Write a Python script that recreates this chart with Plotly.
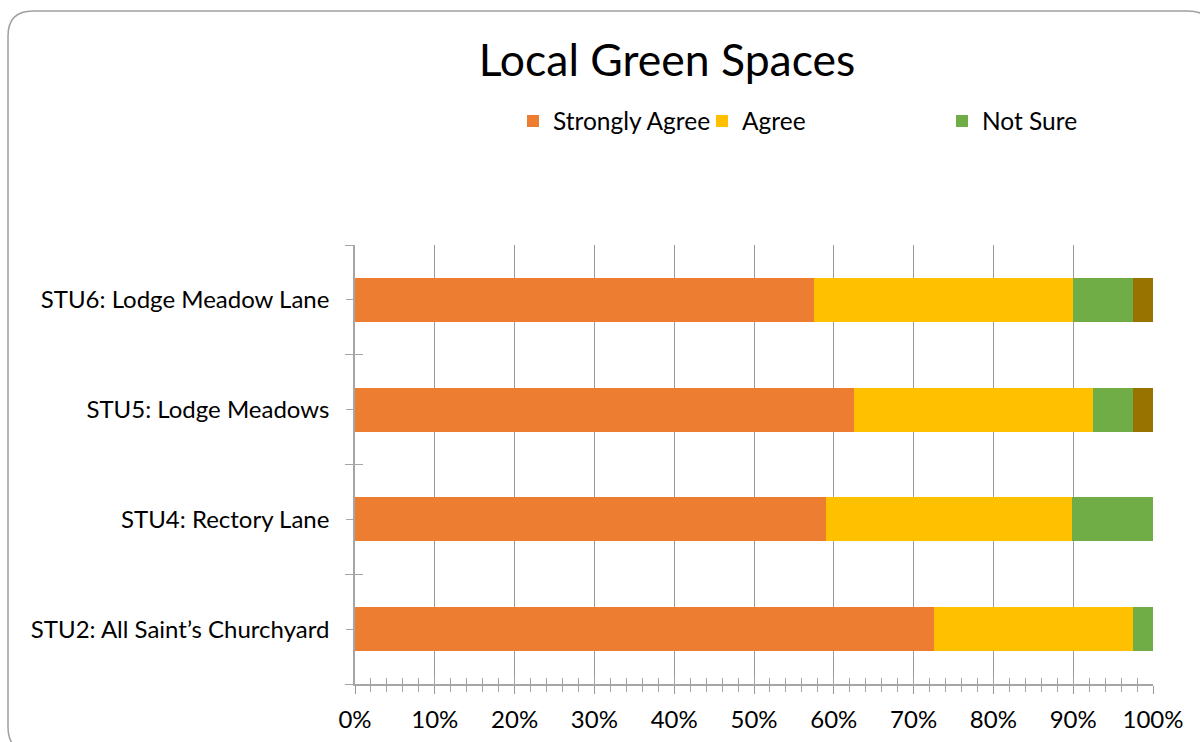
import plotly.graph_objects as go

# ---- data ----
categories = ["STU2: All Saint’s Churchyard", "STU4: Rectory Lane",
              "STU5: Lodge Meadows", "STU6: Lodge Meadow Lane"]
strongly_agree = [72.5, 59.0, 62.5, 57.5]
agree = [25.0, 30.8, 30.0, 32.5]
not_sure = [2.5, 10.2, 5.0, 7.5]
disagree = [0.0, 0.0, 2.5, 2.5]
x_ticks = [0, 10, 20, 30, 40, 50, 60, 70, 80, 90, 100]

series = [
    ("Strongly Agree", strongly_agree, "#ED7D31", "legend", True),
    ("Agree", agree, "#FFC000", "legend2", True),
    ("Not Sure", not_sure, "#70AD47", "legend3", True),
    ("Disagree", disagree, "#997300", "legend", False),
]

FONT = "Lato"
W, H = 1200, 742
L, R, T, B = 355, 47, 245, 58
PW, PH = W - L - R, H - T - B

y_pos = list(range(len(categories)))

fig = go.Figure()
for name, vals, color, lg, show in series:
    fig.add_trace(go.Bar(
        y=y_pos, x=vals, name=name, orientation="h",
        marker=dict(color=color, line=dict(width=0)),
        width=0.4, legend=lg, showlegend=show,
    ))
# dummy trace for overlay axes (crossing tick marks)
fig.add_trace(go.Scatter(x=[None], y=[None], xaxis="x2", yaxis="y2",
                         showlegend=False, hoverinfo="skip"))

def px2paper_x(px):
    return (px - L) / PW

def px2paper_y(py):
    return (H - B - py) / PH

# rounded border path (pixel geometry -> paper coords)
bx0, by0, bx1, by1, rad = 8, 11, 1213, 752, 25
path = (
    f"M {px2paper_x(bx0)},{px2paper_y(by0 + rad)} "
    f"Q {px2paper_x(bx0)},{px2paper_y(by0)} {px2paper_x(bx0 + rad)},{px2paper_y(by0)} "
    f"L {px2paper_x(bx1 - rad)},{px2paper_y(by0)} "
    f"Q {px2paper_x(bx1)},{px2paper_y(by0)} {px2paper_x(bx1)},{px2paper_y(by0 + rad)} "
    f"L {px2paper_x(bx1)},{px2paper_y(by1 - rad)} "
    f"Q {px2paper_x(bx1)},{px2paper_y(by1)} {px2paper_x(bx1 - rad)},{px2paper_y(by1)} "
    f"L {px2paper_x(bx0 + rad)},{px2paper_y(by1)} "
    f"Q {px2paper_x(bx0)},{px2paper_y(by1)} {px2paper_x(bx0)},{px2paper_y(by1 - rad)} Z"
)

axis_grey = "#A6A6A6"
grid_grey = "#999999"

legend_common = dict(orientation="h", yanchor="middle", y=px2paper_y(121),
                     xanchor="left", bgcolor="rgba(0,0,0,0)",
                     font=dict(family=FONT, size=24.5, color="#000000"))

fig.update_layout(
    width=W, height=H,
    margin=dict(l=L, r=R, t=T, b=B, pad=0, autoexpand=False),
    barmode="stack",
    paper_bgcolor="white", plot_bgcolor="white",
    font=dict(family=FONT, size=24, color="#000000"),
    title=dict(text="Local Green Spaces", x=667 / W, xanchor="center",
               y=1 - 60 / H, yanchor="middle",
               font=dict(family=FONT, size=44.5, color="#000000")),
    legend=dict(x=px2paper_x(513), **legend_common),
    legend2=dict(x=px2paper_x(702), **legend_common),
    legend3=dict(x=px2paper_x(942), **legend_common),
    xaxis=dict(range=[0, 100], tickmode="array", tickvals=x_ticks,
               ticktext=[f"{v}%" for v in x_ticks],
               showgrid=True, gridcolor=grid_grey, gridwidth=1,
               zeroline=False, showline=True, linecolor=axis_grey, linewidth=1.5,
               ticks="outside", ticklen=8, tickcolor=grid_grey, tickwidth=1,
               minor=dict(dtick=2, tick0=0, ticks="outside", ticklen=6,
                          tickcolor=axis_grey, tickwidth=1, showgrid=False),
               ticklabelstandoff=5, automargin=False,
               tickfont=dict(family=FONT, size=24, color="#000000"),
               fixedrange=True),
    xaxis2=dict(overlaying="x", matches="x", anchor="y", side="bottom",
                tickmode="linear", tick0=0, dtick=2, ticks="inside", ticklen=6,
                tickcolor=axis_grey, tickwidth=1, showticklabels=False,
                showgrid=False, zeroline=False, showline=False, automargin=False),
    yaxis=dict(range=[-0.5, len(categories) - 0.5], tickmode="array",
               tickvals=y_pos, ticktext=categories,
               showgrid=False, zeroline=False, showline=True,
               linecolor=axis_grey, linewidth=1.5,
               ticks="outside", ticklen=7, tickcolor=axis_grey, tickwidth=1,
               minor=dict(tick0=0.5, dtick=1, ticks="outside", ticklen=8,
                          tickcolor=axis_grey, tickwidth=1, showgrid=False),
               ticklabelstandoff=12, automargin=False,
               tickfont=dict(family=FONT, size=24, color="#000000"),
               fixedrange=True),
    yaxis2=dict(overlaying="y", matches="y", anchor="x", side="left",
                tickmode="linear", tick0=0.5, dtick=1, ticks="inside", ticklen=8,
                tickcolor=axis_grey, tickwidth=1, showticklabels=False,
                showgrid=False, zeroline=False, showline=False, automargin=False),
    shapes=[dict(type="path", xref="paper", yref="paper", path=path,
                 line=dict(color="#A0A0A0", width=1.5), fillcolor="rgba(0,0,0,0)",
                 layer="below")],
)

fig.write_html("out.html")
